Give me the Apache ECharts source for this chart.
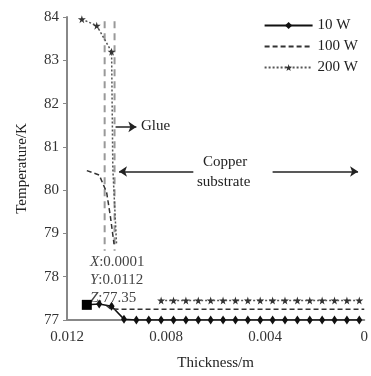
<!DOCTYPE html>
<html>
<head>
<meta charset="utf-8">
<script src="https://cdn.jsdelivr.net/npm/echarts@6/dist/echarts.min.js"></script>
<style>
  html, body { margin: 0; padding: 0; background: #fff; }
  #main { width: 371px; height: 376px; }
</style>
</head>
<body>
<div id="main"></div>
<script>
  // thickness (m) / temperature (K)
  var xTicks = [0.012, 0.008, 0.004, 0]
  var yTicks = [77, 78, 79, 80, 81, 82, 83, 84]

  // 10 W: solid with small diamonds
  var w10 = [[0.0112, 77.35], [0.0107, 77.37], [0.0102, 77.32], [0.0097, 77.02],
    [0.0092, 77.0], [0.0087, 77.0], [0.0082, 77.0], [0.0077, 77.0], [0.0072, 77.0],
    [0.0067, 77.0], [0.0062, 77.0], [0.0057, 77.0], [0.0052, 77.0], [0.0047, 77.0],
    [0.0042, 77.0], [0.0037, 77.0], [0.0032, 77.0], [0.0027, 77.0], [0.0022, 77.0],
    [0.0017, 77.0], [0.0012, 77.0], [0.0007, 77.0], [0.0002, 77.0]]
  var probe = [[0.0112, 77.35]]

  // 100 W: dashed
  var w100Top = [[0.0112, 80.45], [0.0107, 80.35], [0.0104, 79.95], [0.01025, 79.4], [0.0101, 78.75]]
  var w100Low = [[0.0104, 77.33], [0.01025, 77.26], [0.0099, 77.25], [0, 77.25]]

  // 200 W: dotted with stars
  var w200Top = [[0.0114, 83.95], [0.0108, 83.8], [0.0102, 83.2], [0.01015, 80.5], [0.0100, 78.75]]
  var w200Low = [[0.0082, 77.45], [0.0077, 77.45], [0.0072, 77.45], [0.0067, 77.45],
    [0.0062, 77.45], [0.0057, 77.45], [0.0052, 77.45], [0.0047, 77.45], [0.0042, 77.45],
    [0.0037, 77.45], [0.0032, 77.45], [0.0027, 77.45], [0.0022, 77.45], [0.0017, 77.45],
    [0.0012, 77.45], [0.0007, 77.45], [0.0002, 77.45]]

  // glue boundaries
  var glueA = [[0.01048, 83.9], [0.01048, 78.6]]
  var glueB = [[0.01008, 83.9], [0.01008, 78.6]]

  var star = 'path://M50,0 L61,35 L98,35 L68,57 L79,91 L50,70 L21,91 L32,57 L2,35 L39,35 Z'
  var serif = '"Liberation Serif", "DejaVu Serif", serif'
  var clear = 'rgba(0,0,0,0)'

  var chart = echarts.init(document.getElementById('main'))
  var option = {
    backgroundColor: '#fff',
    animation: false,
    textStyle: { fontFamily: serif },
    grid: { left: 67, right: 3, top: 17, bottom: 55 },
    legend: {
      data: ['10 W', '100 W', '200 W'],
      orient: 'vertical',
      right: 8,
      top: 13,
      itemGap: 6,
      itemWidth: 48,
      itemHeight: 9,
      textStyle: { fontFamily: serif, fontSize: 15, color: '#222' }
    },
    xAxis: {
      type: 'value',
      inverse: true,
      min: 0,
      max: 0.012,
      interval: 0.004,
      name: 'Thickness/m',
      nameLocation: 'middle',
      nameGap: 36,
      nameTextStyle: { fontFamily: serif, fontSize: 15, color: '#222' },
      axisLine: { onZero: false, lineStyle: { color: '#888', width: 2 } },
      axisTick: { show: false },
      splitLine: { show: false },
      axisLabel: {
        fontFamily: serif, fontSize: 15, color: '#333', margin: 10,
        showMinLabel: true, showMaxLabel: true,
        formatter: function(v) {
          var s = String(parseFloat(v.toFixed(3)))
          return xTicks.indexOf(parseFloat(s)) >= 0 ? s : ''
        }
      }
    },
    yAxis: {
      type: 'value',
      position: 'left',
      min: 77,
      max: 84,
      interval: 1,
      name: 'Temperature/K',
      nameLocation: 'middle',
      nameGap: 37,
      nameTextStyle: { fontFamily: serif, fontSize: 15, color: '#222' },
      axisLine: { show: true, onZero: false, lineStyle: { color: '#888', width: 2 } },
      axisTick: { show: true, inside: false, length: 4, lineStyle: { color: '#888' } },
      splitLine: { show: false },
      axisLabel: {
        fontFamily: serif, fontSize: 15, color: '#333', margin: 8,
        formatter: function(v) { return yTicks.indexOf(v) >= 0 ? String(v) : '' }
      }
    },
    graphic: [
      {
        type: 'text', left: 141, top: 119,
        style: { text: 'Glue', font: '15px ' + serif, fill: '#222' }
      },
      {
        type: 'text', left: 203, top: 155,
        style: { text: 'Copper', font: '15px ' + serif, fill: '#222' }
      },
      {
        type: 'text', left: 197, top: 175,
        style: { text: 'substrate', font: '15px ' + serif, fill: '#222' }
      },
      {
        type: 'text', left: 90, top: 253,
        style: {
          text: '{i|X}:0.0001\n{i|Y}:0.0112\n{i|Z}:77.35',
          font: '15px ' + serif, fill: '#444', lineHeight: 18,
          rich: { i: { fontStyle: 'italic', font: 'italic 15px ' + serif, fill: '#444' } }
        }
      }
    ],
    series: [
      {
        name: 'glueA', type: 'line', data: glueA, symbol: 'none', silent: true,
        lineStyle: { color: '#999', width: 2, type: [7, 5] },
        markLine: {
          silent: true,
          symbol: ['none', 'arrow'],
          symbolSize: 8,
          label: { show: false },
          lineStyle: { color: '#222', width: 1.5, type: 'solid' },
          data: [
            [{ coord: [0.01004, 81.46] }, { coord: [0.0092, 81.46] }],
            [{ coord: [0.0069, 80.43] }, { coord: [0.0099, 80.43] }],
            [{ coord: [0.0037, 80.43] }, { coord: [0.00025, 80.43] }]
          ]
        }
      },
      {
        name: 'glueB', type: 'line', data: glueB, symbol: 'none', silent: true,
        lineStyle: { color: '#999', width: 2, type: [7, 5] }
      },
      {
        name: '10 W', type: 'line', data: w10,
        symbol: 'diamond', symbolSize: [6, 9],
        itemStyle: { color: '#111' },
        lineStyle: { color: '#111', width: 1.5 }
      },
      {
        name: 'probe', type: 'line', data: probe,
        symbol: 'rect', symbolSize: 10,
        itemStyle: { color: '#000' }
      },
      {
        name: '100 W', type: 'line', data: w100Low,
        symbol: 'circle', symbolSize: 0, showSymbol: false,
        itemStyle: { color: clear, borderColor: clear },
        lineStyle: { color: '#333', width: 1.5, type: [5, 3] }
      },
      {
        name: '100 W', type: 'line', data: w100Top,
        symbol: 'circle', symbolSize: 0, showSymbol: false,
        itemStyle: { color: clear, borderColor: clear },
        lineStyle: { color: '#333', width: 1.5, type: [5, 3] }
      },
      {
        name: '200 W', type: 'line',
        data: w200Low,
        symbol: star, symbolSize: 8,
        itemStyle: { color: '#333' },
        lineStyle: { color: '#555', width: 1.5, type: [2, 2] }
      },
      {
        name: '200 W', type: 'line',
        data: w200Top.map(function(p, i) {
          return i < 3 ? { value: p } : { value: p, symbol: 'none' }
        }),
        symbol: star, symbolSize: 8,
        itemStyle: { color: '#333' },
        lineStyle: { color: '#555', width: 1.5, type: [2, 2] }
      }
    ]
  }
  chart.setOption(option)
</script>
</body>
</html>
